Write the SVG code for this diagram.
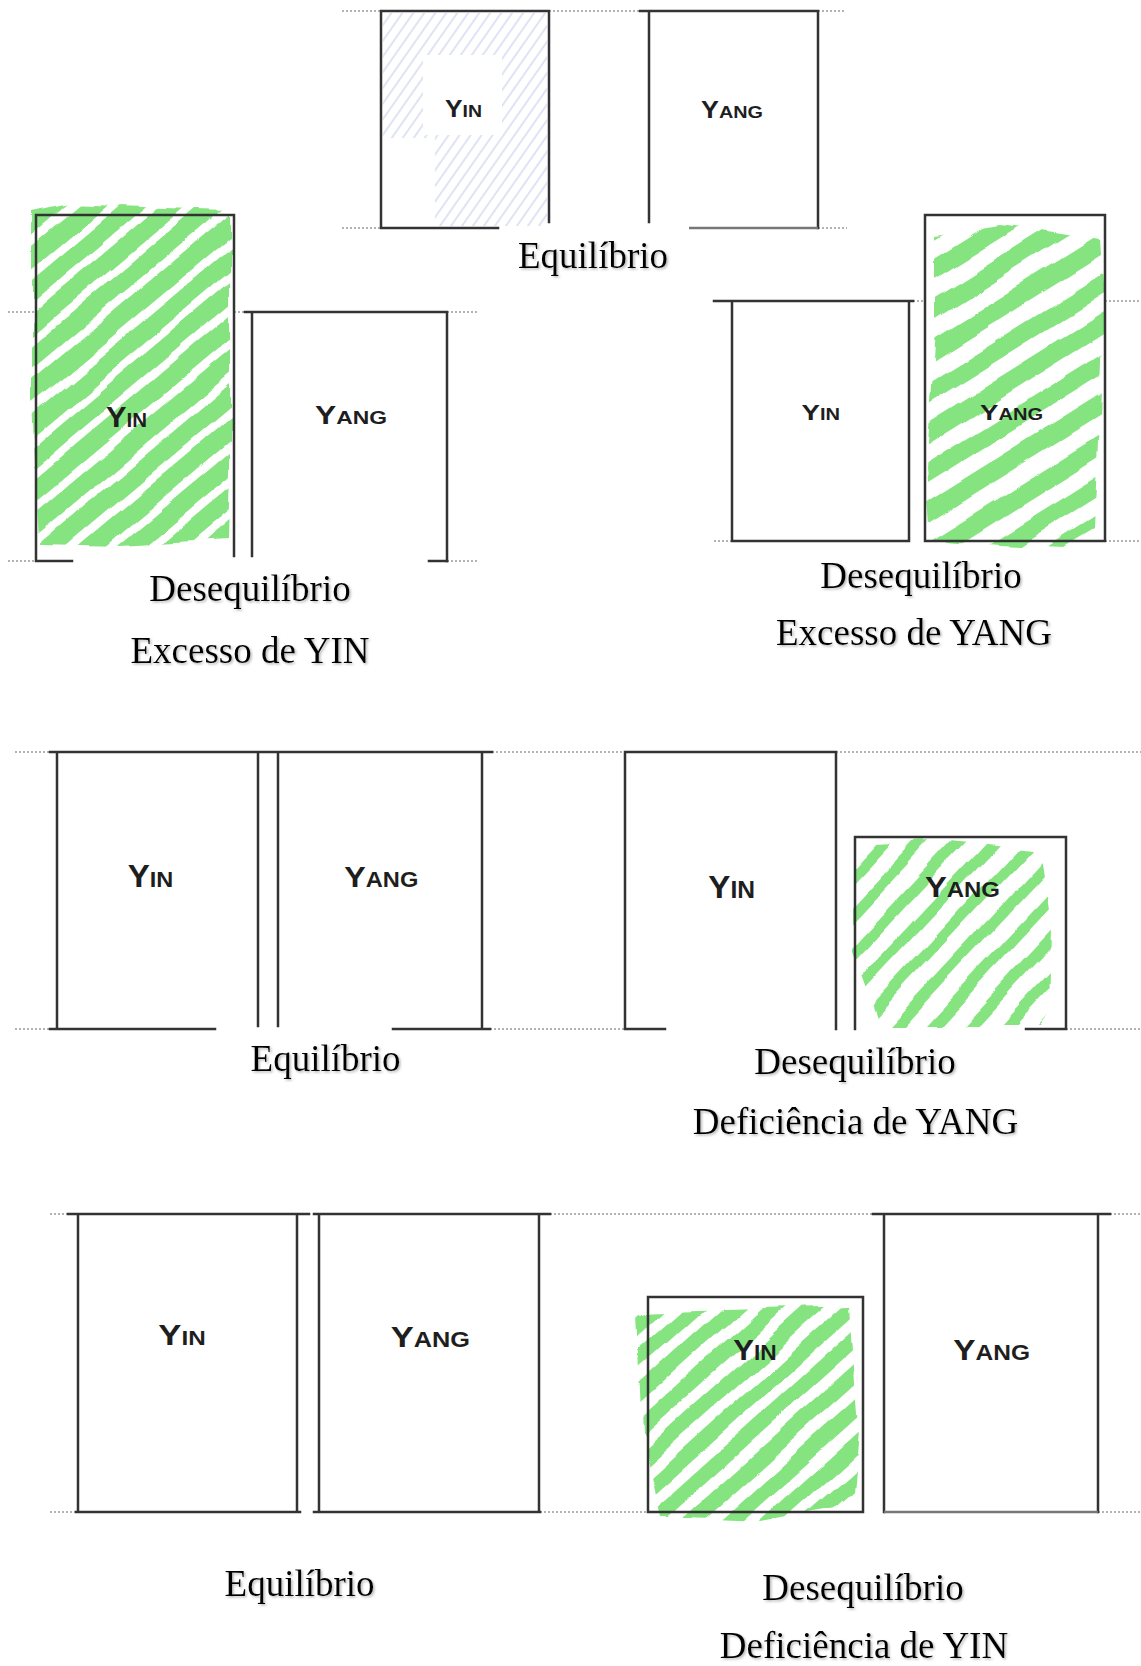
<svg xmlns="http://www.w3.org/2000/svg" width="1141" height="1666" viewBox="0 0 1141 1666">
<defs>
<style>
.s{stroke:#333;stroke-width:2.5;fill:none;stroke-linecap:square}
.sl{stroke:#777;stroke-width:2.5;fill:none}
.d{stroke:#9a9a9a;stroke-width:1.6;fill:none;stroke-dasharray:2 2}
.yy{font-family:"Liberation Sans",Arial,sans-serif;font-weight:bold;fill:#1e1e1e}
.cap{font-family:"Liberation Serif","Times New Roman",serif;font-size:37px;fill:#000;text-anchor:middle;filter:url(#sh)}
.g{opacity:0.95;filter:url(#rough)}
</style>
<filter id="sh" x="-5%" y="-20%" width="110%" height="150%"><feDropShadow dx="1.5" dy="1.5" stdDeviation="0.9" flood-color="#888" flood-opacity="0.6"/></filter>
<filter id="rough" x="-10%" y="-10%" width="120%" height="120%"><feTurbulence type="fractalNoise" baseFrequency="0.018" numOctaves="1" seed="7"/><feDisplacementMap in="SourceGraphic" scale="14" xChannelSelector="R" yChannelSelector="G"/></filter>
<pattern id="gA" width="26" height="26" patternUnits="userSpaceOnUse" patternTransform="rotate(-40)"><rect width="26" height="18" rx="0" fill="#7fe37a"/></pattern>
<pattern id="gB" width="34" height="34" patternUnits="userSpaceOnUse" patternTransform="rotate(-32)"><rect width="34" height="18" fill="#7fe37a"/></pattern>
<pattern id="gC" width="27" height="27" patternUnits="userSpaceOnUse" patternTransform="rotate(-47)"><rect width="27" height="11" fill="#7fe37a"/></pattern>
<pattern id="gD" width="26" height="26" patternUnits="userSpaceOnUse" patternTransform="rotate(-42)"><rect width="26" height="15" fill="#7fe37a"/></pattern>
<pattern id="bH" width="9" height="9" patternUnits="userSpaceOnUse" patternTransform="rotate(-55)"><line x1="0" y1="4" x2="9" y2="4" stroke="#8c9ad6" stroke-width="1"/></pattern>
</defs>
<rect width="1141" height="1666" fill="#fff"/>

<g id="connectors">
<path class="d" d="M342,11H381M549,11H640M818,11H845M342,228H381M818,228H847"/>
<path class="d" d="M8,312H36M234,312H245M447,312H478M8,561H36M447,561H478"/>
<path class="d" d="M909,301H925M1105,301H1141M714,541H732M1105,541H1141"/>
<path class="d" d="M15,752H50M492,752H625M836,752H1141M15,1029H50M490,1029H625M1066,1029H1141"/>
<path class="d" d="M50,1214H68M550,1214H873M1110,1214H1141M50,1512H76M540,1512H648M1098,1512H1141"/>
</g>

<g id="panel-equilibrio-1">
<path fill="url(#bH)" opacity="0.55" fill-rule="evenodd" d="M383,13H547V226H435V138H383Z M423,55H502V135H423Z"/>
<path class="s" d="M381,11H549M381,11V228M549,11V222M381,228H498"/>
<path class="s" d="M640,11H818M649,11V222M818,11V228"/>
<path class="sl" d="M689,228H818"/>
<text class="yy" x="445" y="116.5" textLength="37" lengthAdjust="spacingAndGlyphs"><tspan font-size="23">Y</tspan><tspan font-size="17">IN</tspan></text>
<text class="yy" x="701" y="118" textLength="62" lengthAdjust="spacingAndGlyphs"><tspan font-size="23">Y</tspan><tspan font-size="17">ANG</tspan></text>
<text class="cap" x="593" y="268">Equilíbrio</text>
</g>

<g id="panel-excesso-yin">
<path class="g" fill="url(#gA)" d="M33,212L70,204L165,208L230,210L230,470L228,540L120,546L40,544L33,400Z"/>
<path class="s" d="M36,215H234M36,215V561M234,215V556M36,561H72M429,561H447"/>
<path class="s" d="M245,312H447M252,312V556M447,312V561"/>
<text class="yy" x="106" y="426.7" textLength="41" lengthAdjust="spacingAndGlyphs"><tspan font-size="30">Y</tspan><tspan font-size="20">IN</tspan></text>
<text class="yy" x="315" y="424" textLength="72" lengthAdjust="spacingAndGlyphs"><tspan font-size="25">Y</tspan><tspan font-size="18">ANG</tspan></text>
<text class="cap" x="250" y="601">Desequilíbrio</text>
<text class="cap" x="250" y="663">Excesso de YIN</text>
</g>

<g id="panel-excesso-yang">
<path class="g" fill="url(#gB)" d="M935,235L1000,225L1100,240L1104,300L1100,420L1095,530L1065,548L1000,545L930,540L925,470L935,330Z"/>
<path class="s" d="M714,301H913M732,301V541M909,301V541M732,541H909"/>
<path class="s" d="M925,215H1105V541H925Z"/>
<text class="yy" x="801.5" y="420" textLength="38.5" lengthAdjust="spacingAndGlyphs"><tspan font-size="22">Y</tspan><tspan font-size="16">IN</tspan></text>
<text class="yy" x="980" y="420" textLength="63" lengthAdjust="spacingAndGlyphs"><tspan font-size="22">Y</tspan><tspan font-size="16">ANG</tspan></text>
<text class="cap" x="921" y="587.5">Desequilíbrio</text>
<text class="cap" x="914" y="645">Excesso de YANG</text>
</g>

<g id="panel-equilibrio-2">
<path class="s" d="M50,752H492M57,752V1029M258,752V1026M278,752V1026M482,752V1029M50,1029H215M393,1029H490"/>
<text class="yy" x="127.7" y="886.7" textLength="45.6" lengthAdjust="spacingAndGlyphs"><tspan font-size="31">Y</tspan><tspan font-size="22">IN</tspan></text>
<text class="yy" x="344.3" y="886.7" textLength="74" lengthAdjust="spacingAndGlyphs"><tspan font-size="30">Y</tspan><tspan font-size="22">ANG</tspan></text>
<text class="cap" x="325.6" y="1071">Equilíbrio</text>
</g>

<g id="panel-deficiencia-yang">
<path class="g" fill="url(#gC)" d="M853,845L950,840L1040,850L1052,930L1050,1010L1040,1025L880,1025L853,950Z"/>
<path class="s" d="M625,752H836M625,752V1029M836,752V1029M625,1029H665"/>
<path class="s" d="M855,837H1066M855,837V1029M1066,837V1029M1026,1029H1066"/>
<text class="yy" x="708.3" y="898.3" textLength="46.7" lengthAdjust="spacingAndGlyphs"><tspan font-size="31">Y</tspan><tspan font-size="23">IN</tspan></text>
<text class="yy" x="925" y="897" textLength="75" lengthAdjust="spacingAndGlyphs"><tspan font-size="30">Y</tspan><tspan font-size="22">ANG</tspan></text>
<text class="cap" x="855" y="1074">Desequilíbrio</text>
<text class="cap" x="855.5" y="1133.6">Deficiência de YANG</text>
</g>

<g id="panel-equilibrio-3">
<path class="s" d="M68,1214H309M78,1214V1512M297,1214V1512M76,1512H300"/>
<path class="s" d="M314,1214H550M319,1214V1512M539,1214V1512M314,1512H540"/>
<text class="yy" x="158.3" y="1345" textLength="47.4" lengthAdjust="spacingAndGlyphs"><tspan font-size="30">Y</tspan><tspan font-size="21">IN</tspan></text>
<text class="yy" x="390.7" y="1347.3" textLength="79.3" lengthAdjust="spacingAndGlyphs"><tspan font-size="30">Y</tspan><tspan font-size="22">ANG</tspan></text>
<text class="cap" x="299.6" y="1595.7">Equilíbrio</text>
</g>

<g id="panel-deficiencia-yin">
<path class="g" fill="url(#gD)" d="M638,1312L850,1305L858,1430L852,1505L760,1522L660,1518L645,1450Z"/>
<path class="s" d="M648,1297H863V1512H648Z"/>
<path class="s" d="M873,1214H1110M884,1214V1512M1098,1214V1512"/>
<path class="sl" d="M884,1512H1098"/>
<text class="yy" x="733.3" y="1360" textLength="43.4" lengthAdjust="spacingAndGlyphs"><tspan font-size="30">Y</tspan><tspan font-size="22">IN</tspan></text>
<text class="yy" x="953.3" y="1360" textLength="76.7" lengthAdjust="spacingAndGlyphs"><tspan font-size="30">Y</tspan><tspan font-size="22">ANG</tspan></text>
<text class="cap" x="863" y="1600">Desequilíbrio</text>
<text class="cap" x="864" y="1658">Deficiência de YIN</text>
</g>
</svg>
